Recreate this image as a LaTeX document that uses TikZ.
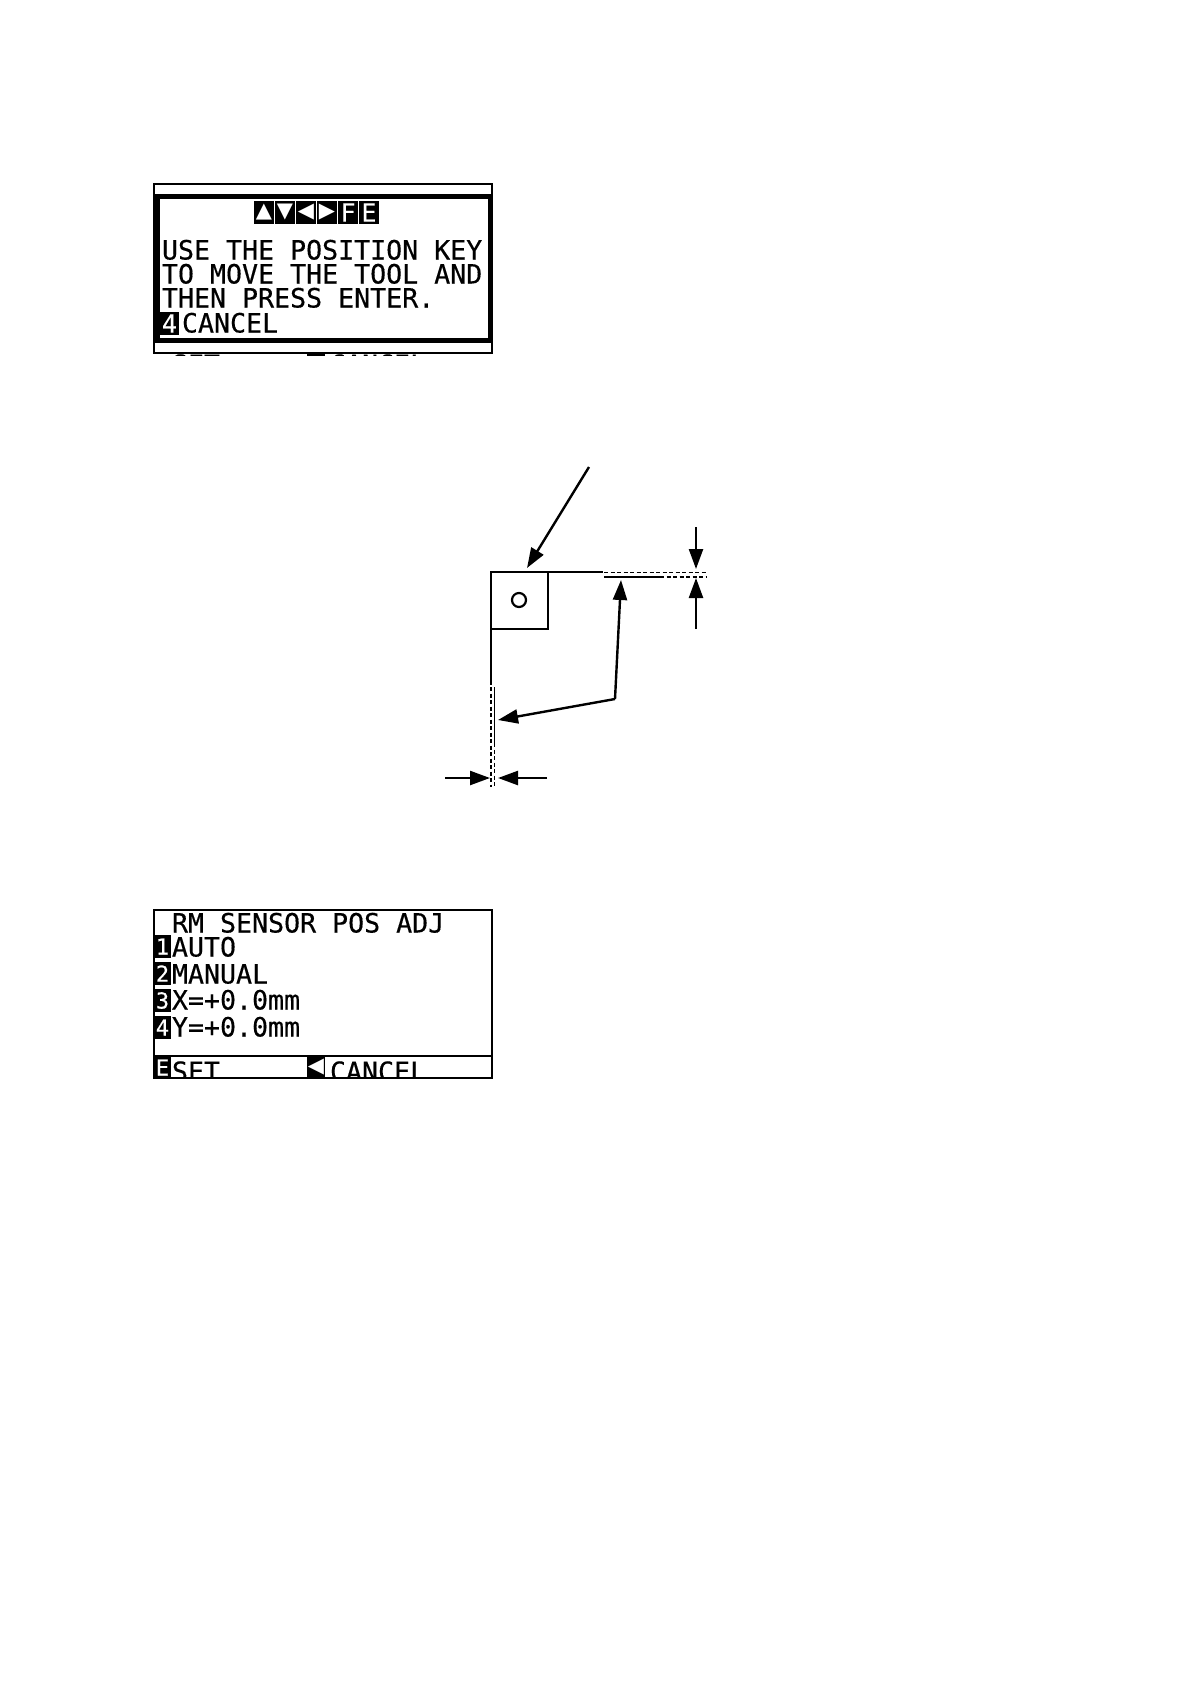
\documentclass[tikz,border=0pt]{standalone}
\usepackage{fontspec}
\usetikzlibrary{arrows.meta}
\newfontfamily\lcd{DejaVu Sans Mono}[FakeBold=0.4]
\newfontfamily\lcdsym{DejaVu Sans}
\tikzset{
  x=1pt,y=-1pt,
  lcdtext/.style={anchor=base west,inner sep=0pt,outer sep=0pt,font=\fontsize{26.6}{26.6}\selectfont\lcd},
  tile/.style={anchor=north west,fill=black,text=white,inner sep=0pt,outer sep=0pt,minimum width=#1,minimum height=23pt,font=\fontsize{25}{25}\selectfont\lcd},
  tile/.default=20pt,
  narrowtile/.style={tile=17pt,font=\fontsize{22}{22}\selectfont\lcd},
  symtile/.style={tile=20pt,font=\fontsize{21}{21}\selectfont\lcdsym},
  frame/.style={draw=black,line width=2.2pt},
  fig/.style={draw=black,line width=2.4pt},
  thin dash/.style={draw=black,line width=1.3pt,dash pattern=on 4pt off 2.5pt},
  thin solid/.style={draw=black,line width=1.2pt},
  lead/.style={draw=black,line width=2.4pt,-{Triangle[length=20pt,width=14pt]}}
}
\begin{document}
\begin{tikzpicture}
\useasboundingbox[fill=white] (0,0) rectangle (1191,1684);
% Panel 1
\draw[frame] (154,184) rectangle (492,353);
\draw[draw=black,line width=5pt] (157,196) rectangle (490,340.5);
\node[symtile] (t1) at (254,201) {▲};
\node[symtile] (t2) at (275,201) {▼};
\node[symtile] (t3) at (296,201) {◀};
\node[symtile] (t4) at (317,201) {▶};
\node[tile] (t5) at (338,201) {F};
\node[tile] (t6) at (359,201) {E};
\node[lcdtext] (a1) at (162,259.5) {USE THE POSITION KEY};
\node[lcdtext] (a2) at (162,283.5) {TO MOVE THE TOOL AND};
\node[lcdtext] (a3) at (162,307.5) {THEN PRESS ENTER.};
\node[tile=19pt] (a4k) at (160,312) {4};
\node[lcdtext] (a4) at (182,332.5) {CANCEL};
\begin{scope}
\clip (150,354) rectangle (500,355.8);
\node[lcdtext] (a5) at (172,374) {SET};
\node[tile=18pt] (a6k) at (307,354) {\phantom{x}};
\node[lcdtext] (a6) at (330,374) {CANCEL};
\end{scope}
% Diagram
\coordinate (sqA) at (491,572);
\coordinate (sqB) at (548,629);
\coordinate (topEnd) at (603,572);
\coordinate (leftEnd) at (491,685);
\coordinate (arS) at (589,467);
\coordinate (arT) at (527,568);
\coordinate (bend) at (615,699);
\coordinate (tipU) at (621,580);
\coordinate (tipL) at (498,720);
\coordinate (dT1) at (696,527);
\coordinate (dT2) at (696,569);
\coordinate (dB1) at (696,629);
\coordinate (dB2) at (696,578);
\coordinate (hL1) at (445,778);
\coordinate (hL2) at (490,778);
\coordinate (hR1) at (547,778);
\coordinate (hR2) at (498,778);
\draw[fig] (sqA) rectangle (sqB);
\draw[fig] (sqA) -- (topEnd);
\draw[fig] (sqA) -- (leftEnd);
\node[draw=black,line width=2.2pt,circle,minimum size=14pt,inner sep=0pt] (hole) at (519,600) {};
\draw[thin dash] (604,572.7) -- (706,572.7);
\draw[thin solid] (604,577) -- (660,577);
\draw[thin dash] (660,577) -- (706,577);
\draw[thin dash] (491,687) -- (491,787);
\draw[thin solid] (494.3,687) -- (494.3,743);
\draw[thin dash] (494.3,743) -- (494.3,787);
\draw[lead] (arS) -- (arT);
\draw[lead] (bend) -- (tipU);
\draw[lead] (bend) -- (tipL);
\draw[lead] (dT1) -- (dT2);
\draw[lead] (dB1) -- (dB2);
\draw[lead] (hL1) -- (hL2);
\draw[lead] (hR1) -- (hR2);
% Panel 2
\draw[frame] (154,910) rectangle (492,1078);
\draw[frame] (154,1056) -- (492,1056);
\node[lcdtext] (b0) at (172,932.5) {RM SENSOR POS ADJ};
\node[narrowtile] (k1) at (154,935) {1};
\node[lcdtext] (b1) at (172,956.5) {AUTO};
\node[narrowtile] (k2) at (154,962) {2};
\node[lcdtext] (b2) at (172,983.5) {MANUAL};
\node[narrowtile] (k3) at (154,989) {3};
\node[lcdtext] (b3) at (172,1009.5) {X=+0.0mm};
\node[narrowtile] (k4) at (154,1016) {4};
\node[lcdtext] (b4) at (172,1036.5) {Y=+0.0mm};
\begin{scope}
\clip (153,1057) rectangle (493,1077.5);
\node[narrowtile,minimum height=21pt] (kE) at (154,1057) {E};
\node[lcdtext] (b5) at (172,1081) {SET};
\node[symtile,minimum width=18pt,minimum height=21pt] (kC) at (307,1057) {◀};
\node[lcdtext] (b6) at (330,1081) {CANCEL};
\end{scope}
\end{tikzpicture}
\end{document}
